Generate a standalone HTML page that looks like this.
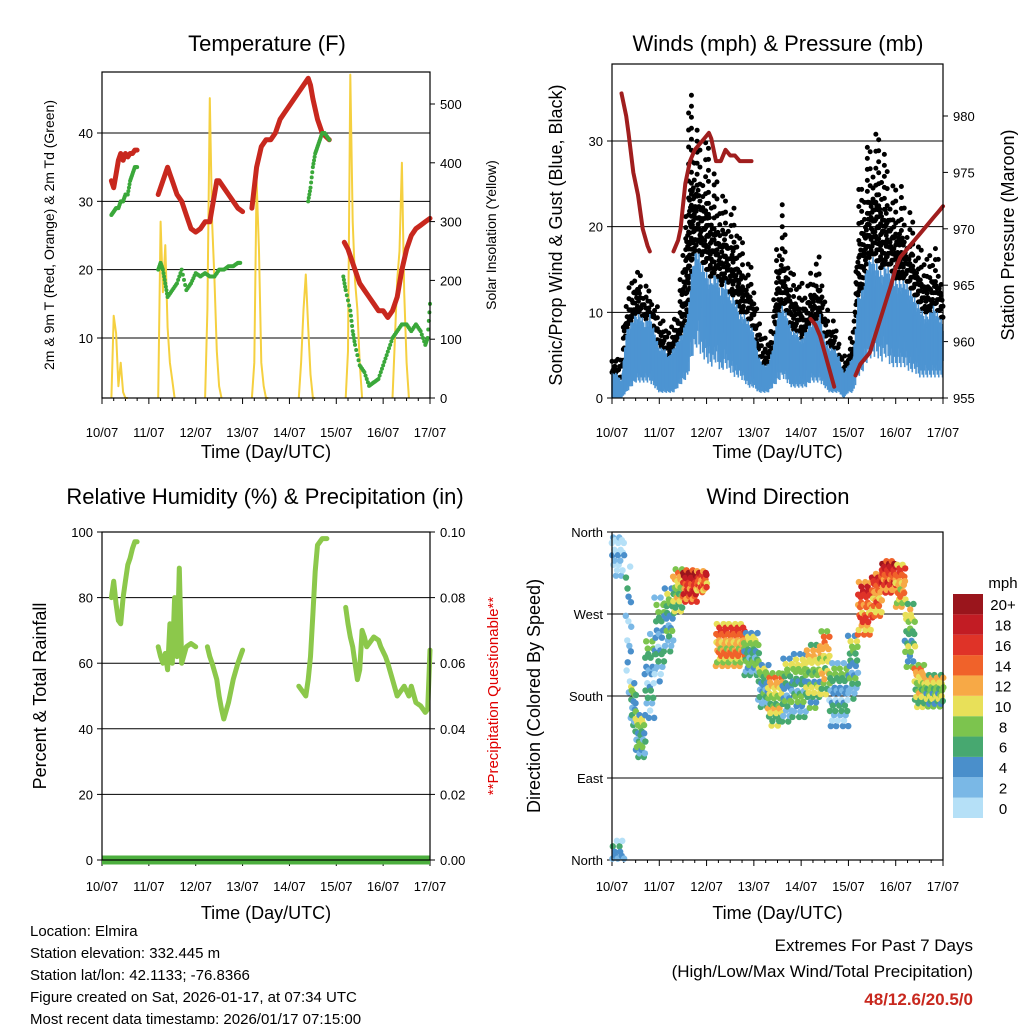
<!DOCTYPE html>
<html><head><meta charset="utf-8">
<style>
html,body{margin:0;padding:0;background:#fff;}
svg{display:block;font-family:"Liberation Sans",Arial,sans-serif;}
</style></head>
<body>
<svg id="root" width="1024" height="1024" viewBox="0 0 1024 1024"></svg>
<script>
// ---------- DATA ----------
const tempDays = [0.2,0.25,0.3,0.35,0.4,0.45,0.5,0.55,0.6,0.65,0.7,0.75,null,1.2,1.3,1.4,1.45,1.5,1.6,1.7,1.8,1.9,2.0,2.1,2.2,2.3,2.35,2.4,2.45,2.5,2.6,2.7,2.8,2.9,3.0,null,3.2,3.3,3.4,3.5,3.6,3.7,3.8,3.9,4.0,4.1,4.2,4.3,4.4,4.45,4.5,4.6,4.7,4.85,null,5.17,5.25,5.3,5.4,5.5,5.6,5.7,5.8,5.9,6.0,6.1,6.2,6.3,6.4,6.5,6.6,6.7,6.8,6.9,7.0];
const tempVals = [33,32,34,36,37,36,37,36.5,37,37,37.5,37.5,null,31,33,35,34,33,31,30,28,26,25.5,26,27,27,29,31,33,33,32,31,30,29,28.5,null,29,35,38,39,39,40,42,43,44,45,46,47,48,47,45,42,40,39,null,24,23,22,20,18,17,16,15,14,14,13,14,16,20,23,25,26,26.5,27,27.5];
const tdDays = [0.2,0.25,0.3,0.35,0.4,0.45,0.5,0.55,0.6,0.65,0.7,0.75,null,1.2,1.25,1.3,1.35,1.4,1.5,1.6,1.7,1.8,1.9,2.0,2.1,2.2,2.3,2.4,2.5,2.6,2.7,2.8,2.9,2.95,null,4.4,4.45,4.5,4.55,4.6,4.65,4.7,4.75,4.85,null,5.15,5.2,5.3,5.35,5.4,5.5,5.6,5.7,5.8,5.9,6.0,6.1,6.2,6.3,6.4,6.5,6.6,6.7,6.8,6.9,6.95,7.0];
const tdVals = [28,28.5,29,29,30,30,31,31,33,34,35,35,null,20,21,20,18,16,17,18,20,17,18,19.5,19,19.5,19,19,20,20,20.5,20.5,21,21,null,30,32,35,37,38,39,40,40,39,null,19,17,14,11,9,6,5,3,3.5,4,6,8,10,11,12,12,11,12,11,9,10,15];
const solarDay0 = [0,140,110,20,60,10,0,0];
const solarDay1 = [0,300,180,260,120,60,30,0];
const solarDay2 = [0,150,510,300,200,80,20,0];
const solarDay3 = [0,60,370,250,60,20,0,0];
const solarDay4 = [0,60,150,210,120,40,0,0];
const solarDay5 = [0,80,550,300,200,150,60,0];
const solarDay6 = [0,100,200,250,400,180,60,0];
const windHi = [3,3,2,8,9,10,10,9,10,8,6, 6,5,6,7,8,10,16,18,16,15,14, 15,13,14,12,12,10,10,9,8,5, 4,4,6,10,11,10,8,8,7,8, 9,9,10,7,6,6,5,3,4,5, 12,13,16,17,16,15,16,15,14,14, 14,13,12,11,10,10,11,10,9,10,9];
const windLo = [0,0,0,1,2,3,3,3,3,2,1, 1,1,1,2,3,4,8,10,8,7,6, 7,5,6,5,4,4,3,2,2,1, 1,1,2,3,4,3,2,2,2,2, 3,3,3,2,1,1,1,0,1,1, 4,5,7,8,8,7,8,6,6,6, 6,5,5,4,4,4,4,4,4,4,4];
const gustMax = [5,6,6,13,14,17,15,14,13,12,10, 10,9,10,12,18,34,36,32,30,30,28, 26,25,24,22,24,20,18,16,15,10, 8,8,10,20,23,18,16,15,13,15, 15,16,17,12,10,9,8,5,7,9, 24,26,30,30,32,30,28,26,25,26, 22,22,20,18,18,17,18,17,16,17,16];
const presDays = [0.2,0.3,0.35,0.45,0.55,0.65,0.75,0.8,null,1.3,1.4,1.45,1.5,1.55,1.65,1.75,1.85,1.95,2.05,2.1,2.2,2.3,2.4,2.5,2.6,2.7,2.8,2.95,null,4.2,4.3,4.4,4.5,4.6,4.7,null,5.15,5.25,5.35,5.45,5.6,5.75,5.9,6.0,6.1,6.2,6.3,6.4,6.5,6.6,6.7,6.8,6.9,7.0];
const presVals = [982,980,978.5,975,973,970,968.5,968,null,968,969,970,972,974,976,977,977.5,978,978.5,978,976,976,977,976.5,976.5,976,976,976,null,962,961.5,960.5,959,957.5,956,null,957,958,958.5,959,961,963,965,966.5,967.5,968,968.5,969,969.5,970,970.5,971,971.5,972];
const rhDays = [0.2,0.25,0.3,0.35,0.4,0.45,0.5,0.55,0.6,0.65,0.7,0.75,null,1.2,1.25,1.3,1.35,1.4,1.45,1.5,1.55,1.6,1.65,1.7,1.8,1.9,2.0,null,2.25,2.3,2.35,2.45,2.5,2.55,2.6,2.7,2.8,2.9,3.0,null,4.2,4.3,4.35,4.4,4.45,4.5,4.55,4.6,4.7,4.8,null,5.2,5.25,5.3,5.35,5.4,5.45,5.5,5.55,5.6,5.65,5.7,5.8,5.9,5.95,6.05,6.1,6.2,6.3,6.4,6.45,6.55,6.6,6.7,6.8,6.9,6.95,7.0];
const rhVals = [80,85,78,73,72,80,85,90,92,95,97,97,null,65,62,60,63,58,72,60,80,62,89,60,65,66,65,null,65,62,60,55,50,46,43,48,55,60,64,null,53,51,50,55,62,75,88,96,98,98,null,77,72,68,65,60,55,58,70,68,65,66,68,67,65,62,60,55,50,52,53,50,53,48,47,45,46,64];
const precipVals = [0,0];
const dirStart = [0.0,0.3,0.4,0.5,0.7,0.9,1.1,1.3,1.5,1.8,2.2,2.8,3.1,3.3,3.6,3.8,4.1,4.4,4.6,5.0,5.2,5.5,5.7,6.0,6.2,6.4,6.6];
const dirEnd   = [0.25,0.4,0.5,0.7,0.9,1.1,1.3,1.5,1.8,2.0,2.8,3.1,3.3,3.6,3.8,4.1,4.4,4.6,5.0,5.2,5.5,5.7,6.0,6.2,6.4,6.6,7.0];
const dirVal   = [345,250,170,135,200,240,262,295,300,305,235,225,190,175,185,190,200,215,180,210,275,290,310,300,245,190,185];
const dirSpread= [30,60,20,20,40,40,30,20,15,10,20,20,20,25,30,30,30,30,30,30,25,20,15,20,30,20,15];
const dirSpeed = [1,2,5,6,4,4,5,9,16,14,12,6,5,9,5,6,8,10,4,5,14,13,15,12,7,9,8];
const cbLabels = ["0","2","4","6","8","10","12","14","16","18","20+"];
const cbColors = ["#b5e0f7","#7ab8e6","#4a8fcb","#47a870","#7cc44e","#e8e059","#f7a946","#f0622a","#df3328","#c21c24","#9a151c"];
const dayLabels = ["10/07","11/07","12/07","13/07","14/07","15/07","16/07","17/07"];
const tempTicks = [10,20,30,40];
const solarTicks = [0,100,200,300,400,500];
const windTicks = [0,10,20,30];
const presTicks = [955,960,965,970,975,980];
const rhTicks = [0,20,40,60,80,100];
const rainTicks = ["0.00","0.02","0.04","0.06","0.08","0.10"];
const dirTicks = ["North","East","South","West","North"];

// ---------- HELPERS ----------
const NS="http://www.w3.org/2000/svg";
const root=document.getElementById('root');
function el(tag,attrs,parent,txt){const e=document.createElementNS(NS,tag);for(const k in attrs)e.setAttribute(k,attrs[k]);if(txt!==undefined)e.textContent=txt;(parent||root).appendChild(e);return e;}
function lin(d0,d1,p0,p1){return v=>p0+(v-d0)/(d1-d0)*(p1-p0);}
function pathFrom(xs,ys,sx,sy){let d="",pen=false;for(let i=0;i<xs.length;i++){if(xs[i]===null||ys[i]===null){pen=false;continue;}d+=(pen?"L":"M")+sx(xs[i]).toFixed(1)+","+sy(ys[i]).toFixed(1);pen=true;}return d;}
function text(x,y,s,size,anchor,parent,extra){return el('text',Object.assign({x:x,y:y,'font-size':size,'text-anchor':anchor||'middle',fill:'#000'},extra||{}),parent,s);}
function frame(g,x0,y0,x1,y1){el('rect',{x:x0,y:y0,width:x1-x0,height:y1-y0,fill:'none',stroke:'#000','stroke-width':1.2},g);}
function xAxis(g,x0,x1,y1,lab,tit){const sx=lin(0,7,x0,x1);
  for(let i=0;i<=7;i++){el('line',{x1:sx(i),y1:y1,x2:sx(i),y2:y1+6,stroke:'#000'},g);
    const t=text(sx(i),y1+lab,dayLabels[i],13,'middle',g);
    
    
    if(i<7)for(let m=1;m<4;m++)el('line',{x1:sx(i+m/4),y1:y1,x2:sx(i+m/4),y2:y1+3,stroke:'#000'},g);}
  const tt=text((x0+x1)/2,y1+tit,"Time (Day/UTC)",18,'middle',g);
  
  
  return sx;}
function interp(arr,t){const i=Math.floor(t),f=t-i;const a=arr[Math.min(i,arr.length-1)],b=arr[Math.min(i+1,arr.length-1)];return a+(b-a)*f;}

// ---------- PANEL 1 ----------
(function(){
const g=el('g',{},root);


const x0=102,y0=72,x1=430,y1=398;
const sy=lin(10,40,338,133), sr=lin(0,500,398,104);
for(const v of tempTicks){el('line',{x1:x0,x2:x1,y1:sy(v),y2:sy(v),stroke:'#000','stroke-width':1},g);
  el('line',{x1:x0-5,x2:x0,y1:sy(v),y2:sy(v),stroke:'#000'},g);
  const t=text(x0-9,sy(v)+5,String(v),13,'end',g);
  
  }
for(const v of solarTicks){el('line',{x1:x1,x2:x1+5,y1:sr(v),y2:sr(v),stroke:'#000'},g);
  const t=text(x1+10,sr(v)+5,String(v),13,'start',g);
  
  }
const sx=xAxis(g,x0,x1,y1,39,60);
const solar=[solarDay0,solarDay1,solarDay2,solarDay3,solarDay4,solarDay5,solarDay6];
solar.forEach((arr,d)=>{const xs=arr.map((_,i)=>d+0.2+i*0.05);
  const p=el('path',{d:pathFrom(xs,arr,sx,sr),fill:'none',stroke:'#f5d040','stroke-width':2,'stroke-linejoin':'round'},g);
  
  });
const tp=el('path',{d:pathFrom(tempDays,tempVals,sx,sy),fill:'none',stroke:'#c8281e','stroke-width':5,'stroke-linejoin':'round','stroke-linecap':'round'},g);


const tg=el('g',{},g);


for(let i=0;i<tdDays.length;i++){if(tdDays[i]===null)continue;
  const n=(i+1<tdDays.length&&tdDays[i+1]!==null)?4:1;
  for(let k=0;k<n;k++){const d=n>1?tdDays[i]+(tdDays[i+1]-tdDays[i])*k/n:tdDays[i];const v=n>1?tdVals[i]+(tdVals[i+1]-tdVals[i])*k/n:tdVals[i];
    el('circle',{cx:sx(d),cy:sy(v),r:2,fill:'#3aa83a'},tg);}}
frame(g,x0,y0,x1,y1);
const title=text(267,51,"Temperature (F)",22,'middle',g);


const yl=text(0,0,"2m & 9m T (Red, Orange) & 2m Td (Green)",14,'middle',g,{transform:'translate(54,235) rotate(-90)'});


const yr=text(0,0,"Solar Insolation (Yellow)",14,'middle',g,{transform:'translate(496,235) rotate(-90)'});


})();

// ---------- PANEL 2 ----------
(function(){
const g=el('g',{},root);


const x0=612,y0=64,x1=943,y1=398;
const sy=lin(0,30,398,141), sp=lin(955,980,398,116);
for(const v of windTicks){if(v>0)el('line',{x1:x0,x2:x1,y1:sy(v),y2:sy(v),stroke:'#000'},g);
  el('line',{x1:x0-5,x2:x0,y1:sy(v),y2:sy(v),stroke:'#000'},g);
  const t=text(x0-9,sy(v)+5,String(v),13,'end',g);
  
  }
for(const v of presTicks){el('line',{x1:x1,x2:x1+5,y1:sp(v),y2:sp(v),stroke:'#000'},g);
  const t=text(x1+10,sp(v)+5,String(v),13,'start',g);
  
  }
const sx=xAxis(g,x0,x1,y1,39,60);
const gg=el('g',{},g);


const wg=el('g',{},g);


const pat=[0,0.6,0.25,0.9,0.45,0.1,0.75,0.35];
const pat2=[1,0.8,0.95,0.7,0.9,0.85,1,0.75,0.88];
for(let j=0;j<=700;j++){const t=j/10;const d=j/100;
  const hi=interp(windHi,t), lo=interp(windLo,t), gu=interp(gustMax,t);
  const top=hi+(gu-hi)*pat2[j%pat2.length]*(j%3===0?1:0.55);
  const off=pat[j%pat.length]*8;
  if(j%2===0)el('line',{x1:sx(d),x2:sx(d),y1:sy(hi)-off,y2:sy(top),stroke:'#000','stroke-width':5,'stroke-linecap':'round','stroke-dasharray':'0 '+(11+(j%4)*3)},gg);
  const h2=hi*(0.8+0.2*pat[(j+3)%pat.length]);
  const l2=lo*(0.6+0.8*pat[(j+5)%pat.length]);
  el('line',{x1:sx(d),x2:sx(d),y1:sy(l2),y2:sy(h2),stroke:'#4d94d2','stroke-width':1.6},wg);
}
const pp=el('path',{d:pathFrom(presDays,presVals,sx,sp),fill:'none',stroke:'#a01e1e','stroke-width':4,'stroke-linejoin':'round','stroke-linecap':'round'},g);


frame(g,x0,y0,x1,y1);
const title=text(778,51,"Winds (mph) & Pressure (mb)",22,'middle',g);


const yl=text(0,0,"Sonic/Prop Wind & Gust (Blue, Black)",18,'middle',g,{transform:'translate(562,235) rotate(-90)'});


const yr=text(0,0,"Station Pressure (Maroon)",18,'middle',g,{transform:'translate(1014,235) rotate(-90)'});


})();

// ---------- PANEL 3 ----------
(function(){
const g=el('g',{},root);


const x0=102,y0=532,x1=430,y1=860;
const sy=lin(0,100,860,532);
rhTicks.forEach((v,i)=>{if(v>0&&v<100)el('line',{x1:x0,x2:x1,y1:sy(v),y2:sy(v),stroke:'#000'},g);
  el('line',{x1:x0-5,x2:x0,y1:sy(v),y2:sy(v),stroke:'#000'},g);
  el('line',{x1:x1,x2:x1+5,y1:sy(v),y2:sy(v),stroke:'#000'},g);
  const t=text(x0-9,sy(v)+5,String(v),13,'end',g);
  
  
  const r=text(x1+10,sy(v)+5,rainTicks[i],13,'start',g);
  
  });
const sx=xAxis(g,x0,x1,y1,31,59);
const srn=lin(0,0.1,860,532);
const pr=el('line',{x1:sx(0),x2:sx(7),y1:srn(precipVals[0]),y2:srn(precipVals[1]),stroke:'#4caf3e','stroke-width':9},g);


const rp=el('path',{d:pathFrom(rhDays,rhVals,sx,sy),fill:'none',stroke:'#8cc84b','stroke-width':5,'stroke-linejoin':'round','stroke-linecap':'round'},g);


frame(g,x0,y0,x1,y1);
const title=text(265,504,"Relative Humidity (%) & Precipitation (in)",22,'middle',g);


const yl=text(0,0,"Percent & Total Rainfall",18,'middle',g,{transform:'translate(46,696) rotate(-90)'});


const yr=text(0,0,"**Precipitation Questionable**",15,'middle',g,{transform:'translate(498,696) rotate(-90)',fill:'#e00000'});


})();

// ---------- PANEL 4 ----------
(function(){
const g=el('g',{},root);


const x0=612,y0=532,x1=943,y1=860;
const sy=lin(0,360,860,532);
dirTicks.forEach((s,i)=>{const v=i*90;if(v>0&&v<360)el('line',{x1:x0,x2:x1,y1:sy(v),y2:sy(v),stroke:'#000'},g);
  el('line',{x1:x0-5,x2:x0,y1:sy(v),y2:sy(v),stroke:'#000'},g);
  el('line',{x1:x1,x2:x1-6,y1:sy(v),y2:sy(v),stroke:'#000'},g);
  const t=text(x0-9,sy(v)+5,s,13,'end',g);
  
  });
const sx=xAxis(g,x0,x1,y1,31,59);
const pg=el('g',{},g);


const offs=[-0.9,-0.35,0.1,0.55,1,-0.7,0.3,0.8,-0.15,-0.55,0.65,-1.1,0.2,1.2,-0.25];
const xj=[0,0.006,-0.004,0.009,-0.008,0.003,-0.002,0.007];
let c=0;
for(let i=0;i<dirVal.length;i++){
  const n=Math.round((dirEnd[i]-dirStart[i])/0.025);
  for(let k=0;k<=n;k++){const base=dirStart[i]+(dirEnd[i]-dirStart[i])*k/Math.max(n,1);
    for(let j=0;j<3;j++){c++;const o=offs[c%offs.length];const d=base+xj[c%xj.length];
      let v=dirVal[i]+o*dirSpread[i]; if(v>360)v-=360;
      const s=Math.max(0,Math.min(20,dirSpeed[i]+offs[(c*7)%offs.length]*3.5));
      el('circle',{cx:sx(d),cy:sy(v),r:3.2,fill:cbColors[Math.min(10,Math.round(s/2))]},pg);}}}
frame(g,x0,y0,x1,y1);
const cb=el('g',{},g);


const bh=224/cbColors.length;
cbColors.forEach((col,i)=>{const y=818-(i+1)*bh;
  el('rect',{x:953,y:y,width:30,height:bh,fill:col},cb);
  const t=text(1003,y+bh/2+6,cbLabels[i],15,'middle',cb);
  
  });
text(1003,588,"mph",15,'middle',cb);
const title=text(778,504,"Wind Direction",22,'middle',g);


const yl=text(0,0,"Direction (Colored By Speed)",18,'middle',g,{transform:'translate(540,696) rotate(-90)'});


})();

// ---------- FOOTER ----------
const info=["Location: Elmira","Station elevation: 332.445 m","Station lat/lon: 42.1133; -76.8366","Figure created on Sat, 2026-01-17, at 07:34 UTC","Most recent data timestamp: 2026/01/17 07:15:00"];
info.forEach((s,i)=>{const t=text(30,936+i*22,s,15,'start');
  
  });
const e1=text(973,951,"Extremes For Past 7 Days",17,'end');


const e2=text(973,977,"(High/Low/Max Wind/Total Precipitation)",17,'end');


const e3=text(973,1005,"48/12.6/20.5/0",17,'end',root,{fill:'#c8281e','font-weight':'bold'});


</script>
</body></html>
